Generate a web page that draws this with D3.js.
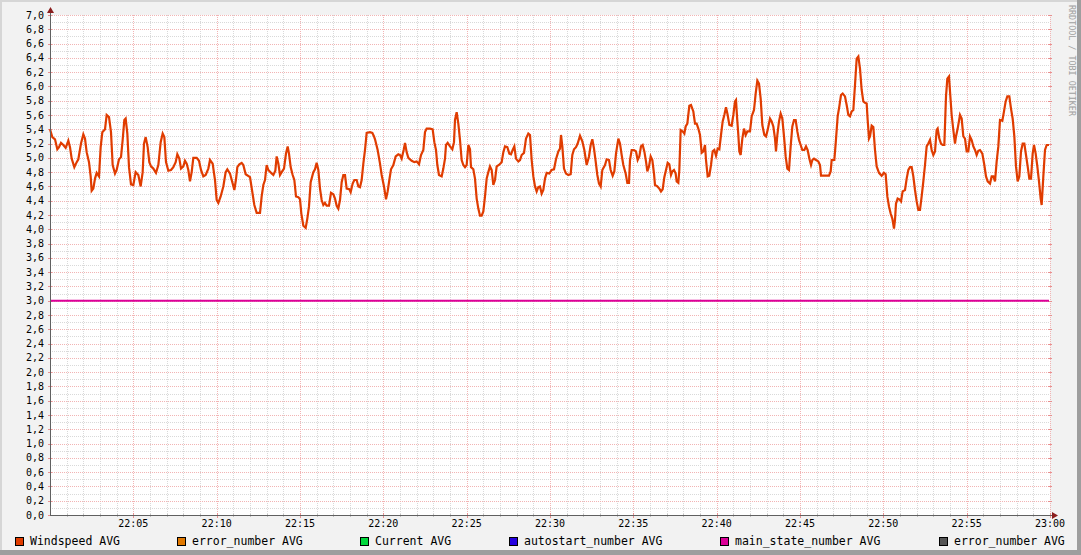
<!DOCTYPE html>
<html><head><meta charset="utf-8">
<script src="https://cdn.jsdelivr.net/npm/d3@7"></script>
<style>body{margin:0;background:#f2f2f2;overflow:hidden} svg{display:block}</style>
</head><body><svg id="c" width="1081" height="555"></svg>
<script>
// ---- DATA ----
// time in minutes after 22:00, value in m/s
const windspeed = [
[0.00,5.40],[0.14,5.29],[0.30,5.26],[0.44,5.12],[0.54,5.15],[0.66,5.21],[0.80,5.18],[0.94,5.14],[1.10,5.24],[1.20,5.15],
[1.30,4.99],[1.46,4.87],[1.60,4.94],[1.70,4.98],[1.86,5.20],[2.00,5.33],[2.10,5.27],[2.20,5.08],[2.34,4.94],[2.44,4.74],
[2.50,4.54],[2.60,4.57],[2.70,4.71],[2.80,4.79],[2.94,4.74],[3.04,5.15],[3.14,5.36],[3.30,5.40],[3.40,5.60],[3.54,5.57],
[3.66,5.36],[3.76,4.90],[3.90,4.78],[4.00,4.83],[4.14,4.98],[4.26,5.01],[4.36,5.25],[4.46,5.53],[4.54,5.55],[4.64,5.34],
[4.74,4.87],[4.86,4.63],[5.00,4.62],[5.14,4.80],[5.30,4.76],[5.44,4.60],[5.56,4.80],[5.64,5.20],[5.74,5.29],[5.86,5.15],
[5.96,4.94],[6.06,4.88],[6.20,4.85],[6.36,4.79],[6.50,4.90],[6.64,5.22],[6.76,5.34],[6.86,5.29],[6.96,4.94],[7.10,4.82],
[7.26,4.83],[7.40,4.87],[7.54,4.94],[7.64,5.05],[7.76,4.99],[7.86,4.85],[8.00,4.88],[8.10,4.96],[8.20,4.92],[8.30,4.83],
[8.40,4.67],[8.50,4.80],[8.60,5.00],[8.80,5.00],[8.94,4.96],[9.06,4.83],[9.20,4.74],[9.34,4.76],[9.50,4.85],
[9.60,4.97],[9.76,4.92],[9.90,4.69],[10.00,4.41],[10.10,4.37],[10.24,4.46],[10.40,4.60],[10.54,4.80],[10.64,4.84],[10.80,4.78],
[10.96,4.64],[11.06,4.55],[11.16,4.70],[11.24,4.87],[11.36,4.91],[11.50,4.93],[11.60,4.90],[11.74,4.77],[12.00,4.73],[12.14,4.52],
[12.26,4.34],[12.40,4.23],[12.60,4.23],[12.70,4.46],[12.80,4.62],[12.90,4.69],[13.00,4.90],[13.10,4.83],[13.30,4.78],[13.40,4.76],
[13.52,4.82],[13.60,5.02],[13.70,4.92],[13.80,4.76],[13.90,4.80],[14.04,4.85],[14.16,5.06],[14.26,5.16],[14.34,5.06],[14.44,4.87],
[14.56,4.76],[14.66,4.69],[14.76,4.46],[14.90,4.45],[15.00,4.42],[15.08,4.22],[15.20,4.05],[15.34,4.02],[15.44,4.15],[15.54,4.32],
[15.64,4.66],[15.80,4.80],[15.90,4.84],[16.00,4.93],[16.10,4.83],[16.20,4.57],[16.30,4.41],[16.40,4.34],[16.50,4.37],[16.60,4.33],
[16.74,4.33],[16.86,4.51],[17.00,4.49],[17.10,4.43],[17.20,4.33],[17.30,4.29],[17.40,4.41],[17.50,4.66],[17.60,4.76],[17.70,4.76],
[17.80,4.57],[17.96,4.56],[18.04,4.52],[18.16,4.64],[18.26,4.69],[18.40,4.69],[18.50,4.60],[18.60,4.59],[18.70,4.69],[18.80,4.92],
[18.90,5.11],[19.00,5.35],[19.20,5.36],[19.34,5.35],[19.44,5.30],
[19.50,5.26],[19.66,5.11],[19.80,4.92],[19.90,4.76],[20.04,4.60],[20.16,4.42],[20.26,4.53],[20.36,4.69],[20.46,4.84],[20.60,4.90],
[20.74,5.02],[20.90,5.05],[21.00,5.04],[21.10,4.99],[21.22,5.11],[21.30,5.21],[21.40,5.08],[21.50,5.00],[21.70,4.96],[21.86,4.94],
[22.00,4.95],[22.14,4.91],[22.26,5.04],[22.40,5.11],[22.50,5.36],[22.60,5.41],[22.80,5.41],[22.96,5.40],[23.06,5.22],[23.16,5.11],
[23.24,4.90],[23.34,4.76],[23.50,4.74],[23.60,4.85],[23.70,4.99],[23.76,5.18],[23.86,5.21],[24.00,5.16],[24.14,5.12],[24.24,5.22],
[24.30,5.53],[24.40,5.64],[24.50,5.48],[24.60,5.25],[24.70,4.97],[24.80,4.90],[24.90,4.87],[25.00,4.90],[25.10,5.18],[25.20,5.12],
[25.26,4.87],[25.40,4.84],[25.50,4.71],[25.60,4.43],[25.70,4.29],[25.80,4.19],[25.90,4.19],[26.00,4.25],[26.10,4.46],[26.20,4.71],
[26.30,4.80],[26.40,4.88],[26.50,4.83],[26.60,4.62],[26.70,4.69],[26.80,4.88],[26.94,4.90],[27.10,4.94],[27.20,5.08],[27.30,5.16],
[27.44,5.15],[27.56,5.06],[27.66,5.05],[27.76,5.11],[27.86,5.16],[27.96,4.99],[28.10,4.95],[28.20,4.97],[28.30,5.04],[28.44,5.07],
[28.56,5.27],[28.70,5.34],[28.80,5.32],[28.90,4.97],[29.00,4.74],[29.10,4.60],[29.20,4.53],[29.30,4.59],
[29.40,4.60],[29.50,4.50],[29.60,4.55],[29.70,4.71],[29.80,4.79],[29.96,4.78],[30.10,4.83],[30.24,4.84],[30.36,4.98],[30.50,5.09],
[30.60,5.13],[30.66,5.32],[30.74,5.16],[30.84,4.85],[30.96,4.78],[31.10,4.76],[31.24,4.77],[31.34,5.04],[31.44,5.12],[31.56,5.15],
[31.66,5.20],[31.80,5.31],[31.94,5.23],[32.06,5.11],[32.20,4.90],[32.34,5.02],[32.44,5.18],[32.54,5.26],[32.64,5.13],[32.74,4.95],
[32.84,4.76],[32.94,4.64],[33.04,4.60],[33.14,4.83],[33.30,4.90],[33.40,4.98],[33.54,4.97],[33.64,4.83],[33.76,4.75],[33.86,4.81],
[33.96,5.06],[34.10,5.27],[34.20,5.20],[34.30,5.04],[34.40,4.90],[34.54,4.78],[34.64,4.65],[34.74,4.65],[34.80,4.97],[34.90,5.11],
[35.04,5.11],[35.16,5.09],[35.26,4.97],[35.36,5.02],[35.46,5.16],[35.56,5.18],[35.66,5.09],[35.76,4.95],[35.84,4.81],[35.94,4.88],
[36.04,5.02],[36.14,4.97],[36.24,4.78],[36.30,4.62],[36.44,4.60],[36.56,4.57],[36.66,4.53],[36.76,4.56],[36.86,4.73],[36.96,4.83],
[37.06,4.93],[37.16,4.91],[37.26,4.76],[37.34,4.81],[37.44,4.83],[37.54,4.78],[37.60,4.67],[37.70,4.65],[37.76,4.83],[37.84,5.39],
[37.96,5.37],[38.06,5.34],[38.14,5.44],[38.24,5.48],[38.36,5.73],[38.46,5.74],[38.60,5.65],[38.70,5.48],[38.80,5.48],[38.90,5.41],
[39.00,5.32],[39.10,5.07],[39.20,5.09],
[39.30,5.18],[39.36,4.97],[39.46,4.74],[39.56,4.75],[39.66,4.90],[39.76,5.09],[39.86,5.11],[39.96,5.03],[40.06,5.13],[40.16,5.12],
[40.26,5.32],[40.36,5.51],[40.46,5.60],[40.56,5.71],[40.66,5.60],[40.76,5.46],[40.90,5.45],[41.00,5.60],[41.10,5.79],[41.16,5.81],
[41.22,5.58],[41.30,5.32],[41.36,5.09],[41.44,5.04],[41.54,5.27],[41.64,5.41],[41.74,5.32],[41.84,5.37],[42.00,5.37],[42.10,5.58],
[42.24,5.67],[42.34,5.90],[42.44,6.08],[42.54,6.04],[42.64,5.83],[42.74,5.46],[42.86,5.32],[42.96,5.30],[43.06,5.39],[43.20,5.55],
[43.30,5.51],[43.40,5.44],[43.50,5.27],[43.56,5.09],[43.64,5.32],[43.74,5.51],[43.84,5.62],[43.94,5.55],[44.04,5.30],[44.14,5.02],
[44.24,4.85],[44.34,4.83],[44.44,5.16],[44.54,5.44],[44.64,5.53],[44.74,5.53],[44.84,5.37],[44.94,5.25],[45.04,5.18],[45.14,5.11],
[45.26,5.11],[45.36,5.16],[45.46,5.11],[45.56,4.99],[45.66,4.90],[45.74,4.97],[45.84,4.99],[45.96,4.97],[46.10,4.95],[46.20,4.90],
[46.26,4.75],[46.50,4.75],[46.74,4.75],[46.84,4.81],[46.90,4.97],[47.06,4.97],[47.14,5.20],[47.26,5.58],[47.36,5.72],[47.46,5.88],
[47.56,5.90],[47.70,5.86],[47.80,5.74],[47.90,5.60],[48.00,5.58],[48.10,5.65],[48.20,5.67],[48.30,6.02],[48.40,6.39],[48.50,6.42],
[48.60,6.25],[48.70,5.95],[48.80,5.79],[48.90,5.77],[49.00,5.76],[49.06,5.53],[49.14,5.27],
[49.20,5.30],[49.30,5.45],[49.40,5.43],[49.50,5.11],[49.60,4.88],[49.74,4.79],[49.90,4.75],[50.04,4.79],[50.14,4.77],[50.24,4.46],
[50.34,4.32],[50.44,4.22],[50.54,4.15],[50.64,4.01],[50.70,4.13],[50.76,4.36],[50.86,4.43],[50.96,4.42],[51.06,4.39],[51.16,4.53],
[51.30,4.55],[51.40,4.71],[51.50,4.83],[51.60,4.87],[51.70,4.87],[51.80,4.74],[51.90,4.55],[52.00,4.39],[52.10,4.27],[52.20,4.27],
[52.30,4.46],[52.40,4.67],[52.50,4.90],[52.60,5.16],[52.70,5.20],[52.80,5.25],[52.90,5.11],[53.00,5.04],[53.10,5.09],[53.20,5.39],
[53.26,5.41],[53.36,5.27],[53.46,5.20],[53.56,5.18],[53.66,5.18],[53.76,5.86],[53.84,6.11],[53.94,6.14],[54.00,5.93],[54.10,5.60],
[54.20,5.39],[54.30,5.20],[54.36,5.30],[54.46,5.41],[54.60,5.60],[54.70,5.55],[54.80,5.30],[54.90,5.27],[55.00,5.09],[55.10,5.09],
[55.20,5.30],[55.30,5.25],[55.40,5.16],[55.50,5.11],[55.60,5.04],[55.70,5.10],[55.80,5.11],[55.94,5.06],[56.06,4.90],[56.16,4.74],
[56.26,4.67],[56.40,4.64],[56.50,4.74],[56.60,4.74],[56.70,4.67],[56.80,4.95],[56.90,5.16],[57.00,5.53],[57.14,5.52],[57.24,5.65],
[57.34,5.79],[57.44,5.86],[57.56,5.86],[57.66,5.69],[57.76,5.55],[57.86,5.30],[57.96,4.88],[58.06,4.67],[58.16,4.74],[58.26,5.09],
[58.36,5.20],[58.46,5.20],[58.56,5.04],[58.66,4.88],[58.76,4.71],[58.86,4.71],[58.96,5.06],[59.04,5.18],[59.14,5.06],[59.24,4.88],
[59.34,4.67],[59.44,4.43],[59.50,4.34],[59.60,4.74],[59.70,5.11],[59.80,5.18],[59.94,5.18]
];
const mainState = [[0.00,3.0],[59.94,3.0]];

const yTickValues = [0,0.2,0.4,0.6,0.8,1.0,1.2,1.4,1.6,1.8,2.0,2.2,2.4,2.6,2.8,3.0,3.2,3.4,3.6,3.8,4.0,4.2,4.4,4.6,4.8,5.0,5.2,5.4,5.6,5.8,6.0,6.2,6.4,6.6,6.8,7.0];
const yTickLabels = ["0,0","0,2","0,4","0,6","0,8","1,0","1,2","1,4","1,6","1,8","2,0","2,2","2,4","2,6","2,8","3,0","3,2","3,4","3,6","3,8","4,0","4,2","4,4","4,6","4,8","5,0","5,2","5,4","5,6","5,8","6,0","6,2","6,4","6,6","6,8","7,0"];
const xTickValues = [5,10,15,20,25,30,35,40,45,50,55,60];
const xTickLabels = ["22:05","22:10","22:15","22:20","22:25","22:30","22:35","22:40","22:45","22:50","22:55","23:00"];
const legendNames = ["Windspeed AVG","error_number AVG","Current AVG","autostart_number AVG","main_state_number AVG","error_number AVG"];
const watermark = "RRDTOOL / TOBI OETIKER";

// ---- STYLE / LAYOUT ----
const legendColors = ["#e03c00","#e07800","#00d83c","#2400e0","#dc0098","#555555"];
const legendX = [15,177,360,509,720,939];
const W = 1081, H = 555;
const L = 50, R = 1050, T = 15, B = 515;
const mono = "'DejaVu Sans Mono', monospace";

const svg = d3.select("#c");
const x = d3.scaleLinear().domain([0,60]).range([L,R]);
const y = d3.scaleLinear().domain([0,7]).range([B,T]);

// background & 3D border
svg.append("rect").attr("width",W).attr("height",H).attr("fill","#f2f2f2");
svg.append("rect").attr("x",0).attr("y",0).attr("width",W).attr("height",2).attr("fill","#d6d6d6");
svg.append("rect").attr("x",0).attr("y",0).attr("width",2).attr("height",H).attr("fill","#d6d6d6");
svg.append("rect").attr("x",W-4).attr("y",0).attr("width",4).attr("height",H).attr("fill","#9e9e9e");
svg.append("rect").attr("x",0).attr("y",H-5).attr("width",W).attr("height",5).attr("fill","#9e9e9e");

// canvas
svg.append("rect").attr("x",L).attr("y",T).attr("width",R-L).attr("height",B-T).attr("fill","#ffffff");

const crisp = v => Math.round(v) + 0.5;
const grid = svg.append("g").attr("shape-rendering","crispEdges");
const minorCol = "#d9d9d9", majorCol = "#f2b4b4";
// minor horizontal (every 0.1)
const minorY = d3.range(1,71).filter(i => i % 2 === 1).map(i => i/10);
grid.selectAll(".mh").data(minorY).enter().append("line")
  .attr("x1",L).attr("x2",R).attr("y1",d=>crisp(y(d))).attr("y2",d=>crisp(y(d)))
  .attr("stroke",minorCol).attr("stroke-dasharray","1,1");
// minor vertical (every minute)
const minorX = d3.range(1,60).filter(i => i % 5 !== 0);
grid.selectAll(".mv").data(minorX).enter().append("line")
  .attr("y1",T).attr("y2",B).attr("x1",d=>crisp(x(d))).attr("x2",d=>crisp(x(d)))
  .attr("stroke",minorCol).attr("stroke-dasharray","1,1");
// major horizontal
grid.selectAll(".Mh").data(yTickValues.filter(v=>v>0)).enter().append("line")
  .attr("x1",L).attr("x2",R).attr("y1",d=>crisp(y(d))).attr("y2",d=>crisp(y(d)))
  .attr("stroke",majorCol).attr("stroke-dasharray","1,1");
// major vertical
grid.selectAll(".Mv").data(xTickValues).enter().append("line")
  .attr("y1",T).attr("y2",B).attr("x1",d=>crisp(x(d))).attr("x2",d=>crisp(x(d)))
  .attr("stroke",majorCol).attr("stroke-dasharray","1,1");
// small ticks
grid.selectAll(".ty").data(yTickValues).enter().append("line")
  .attr("x1",L-2).attr("x2",L+2).attr("y1",d=>crisp(y(d))).attr("y2",d=>crisp(y(d)))
  .attr("stroke","#e89090");
grid.selectAll(".ty2").data(yTickValues).enter().append("line")
  .attr("x1",R-2).attr("x2",R+2).attr("y1",d=>crisp(y(d))).attr("y2",d=>crisp(y(d)))
  .attr("stroke","#e89090");
grid.selectAll(".tx").data(xTickValues).enter().append("line")
  .attr("y1",B-2).attr("y2",B+3).attr("x1",d=>crisp(x(d))).attr("x2",d=>crisp(x(d)))
  .attr("stroke","#e89090");
grid.selectAll(".tx2").data(minorX).enter().append("line")
  .attr("y1",B-1).attr("y2",B+2).attr("x1",d=>crisp(x(d))).attr("x2",d=>crisp(x(d)))
  .attr("stroke","#c0c0c0");

// data lines
const line = d3.line().x(d=>x(d[0])).y(d=>y(d[1]));
svg.append("path").datum(mainState).attr("d",line).attr("fill","none")
  .attr("stroke",legendColors[4]).attr("stroke-width",2);
svg.append("path").datum(windspeed).attr("d",line).attr("fill","none")
  .attr("stroke",legendColors[0]).attr("stroke-width",2.2).attr("stroke-linejoin","miter");

// axes
const ax = svg.append("g").attr("shape-rendering","crispEdges");
ax.append("line").attr("x1",L).attr("x2",R+4).attr("y1",B+0.5).attr("y2",B+0.5).attr("stroke","#606060");
ax.append("line").attr("x1",L+0.5).attr("x2",L+0.5).attr("y1",B).attr("y2",T-3).attr("stroke","#606060");
svg.append("path").attr("d",`M${L-3},${T-2}L${L+4},${T-2}L${L+0.5},${T-8}Z`).attr("fill","#8b1e1e");
svg.append("path").attr("d",`M${R+2},${B-3}L${R+2},${B+4}L${R+8},${B+0.5}Z`).attr("fill","#8b1e1e");

// tick labels
svg.append("g").selectAll("text").data(yTickValues).enter().append("text")
  .attr("x",L-6).attr("y",d=>y(d)+3.5).attr("text-anchor","end")
  .attr("font-family",mono).attr("font-size","10px").attr("fill","#000")
  .text((d,i)=>yTickLabels[i]);
svg.append("g").selectAll("text").data(xTickValues).enter().append("text")
  .attr("x",d=>x(d)).attr("y",B+12).attr("text-anchor","middle")
  .attr("font-family",mono).attr("font-size","10px").attr("fill","#000")
  .text((d,i)=>xTickLabels[i]);

// legend
const lg = svg.append("g");
legendNames.forEach((n,i)=>{
  lg.append("rect").attr("x",legendX[i]+0.5).attr("y",537.5).attr("width",8).attr("height",8)
    .attr("fill",legendColors[i]).attr("stroke","#000").attr("stroke-width",1);
  lg.append("text").attr("x",legendX[i]+15).attr("y",545)
    .attr("font-family",mono).attr("font-size","11.5px").attr("fill","#000").text(n);
});

// watermark
svg.append("text").attr("transform","translate(1069,5) rotate(90)")
  .attr("font-family",mono).attr("font-size","8.4px").attr("fill","#a0a0a0").text(watermark);
</script>
</body></html>
